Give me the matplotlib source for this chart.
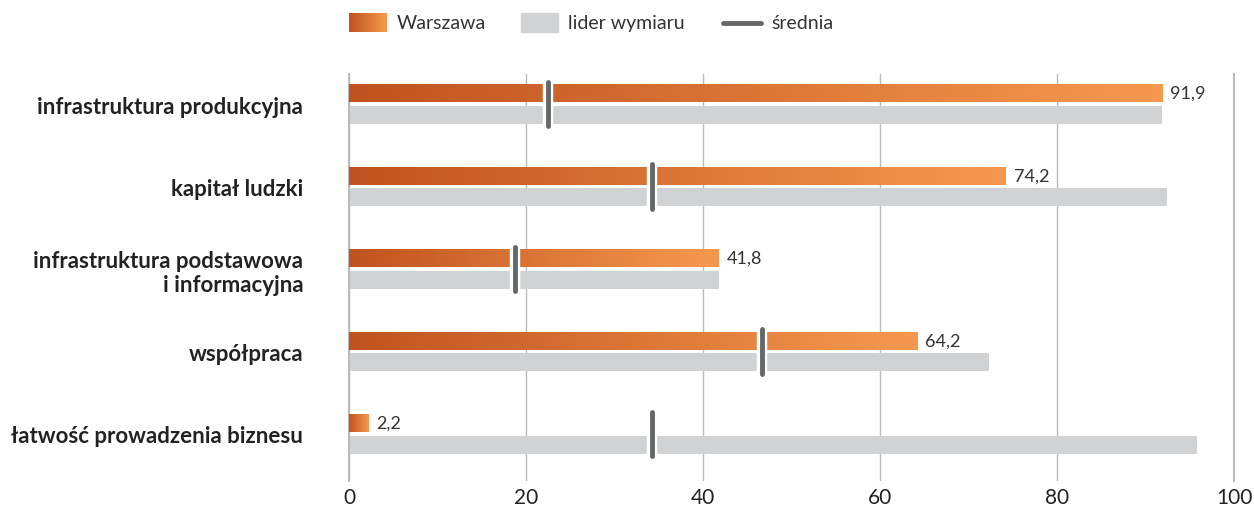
import numpy as np
import matplotlib
matplotlib.use('Agg')
import matplotlib.pyplot as plt
from matplotlib.colors import LinearSegmentedColormap
from matplotlib.patches import Rectangle
from matplotlib.lines import Line2D
import matplotlib.patheffects as pe

plt.rcParams['font.family'] = ['Lato', 'DejaVu Sans']

categories = ['infrastruktura produkcyjna', 'kapitał ludzki',
              'infrastruktura podstawowa\ni informacyjna', 'współpraca',
              'łatwość prowadzenia biznesu']
warszawa = [91.9, 74.2, 41.8, 64.2, 2.2]
lider = [91.9, 92.4, 41.8, 72.3, 95.8]
srednia = [22.5, 34.2, 18.8, 46.7, 34.2]
labels = ['91,9', '74,2', '41,8', '64,2', '2,2']
xticks = [0, 20, 40, 60, 80, 100]

W, H = 1254, 506
fig = plt.figure(figsize=(W / 100, H / 100), dpi=100)
ax = fig.add_axes([349 / W, 1 - 482 / H, (1234 - 349) / W, (482 - 75) / H])

cmap = LinearSegmentedColormap.from_list('war', ['#C0531F', '#F6994F'])
grad = np.linspace(0, 1, 256).reshape(1, -1)

off = 0.133
bh = 0.218
for i in range(len(categories)):
    # gray leader bar
    ax.barh(i + off, lider[i], height=bh, color='#D1D2D4', zorder=2)
    # gradient Warsaw bar
    y0 = i - off - bh / 2
    ax.imshow(grad, cmap=cmap, aspect='auto', extent=[0, warszawa[i], y0 + bh, y0],
              zorder=3, interpolation='bicubic')
    ax.text(warszawa[i] + 0.9, i - off, labels[i], va='center', ha='left',
            fontsize=13, color='#333333')
    # average marker
    ax.plot([srednia[i], srednia[i]], [i - 0.27, i + 0.27], color='#666769', lw=3.5,
            solid_capstyle='round', zorder=5,
            path_effects=[pe.Stroke(linewidth=7.5, foreground='white'), pe.Normal()])

ax.set_xlim(0, 100)
ax.set_ylim(4.57, -0.364)
ax.set_xticks(xticks)
ax.set_xticklabels([str(t) for t in xticks], fontsize=15, color='#222222')
ax.set_yticks(range(len(categories)))
ax.set_yticklabels(categories, fontsize=16, fontweight='bold', color='#222222')
ax.tick_params(axis='x', length=0, pad=4)
ax.tick_params(axis='y', length=0, pad=33)
for t in ax.get_yticklabels():
    t.set_multialignment('right')
ax.grid(axis='x', color='#BBBBBB', lw=1, zorder=1)
ax.set_axisbelow(True)
for s in ['top', 'bottom']:
    ax.spines[s].set_visible(False)
for s in ['left', 'right']:
    ax.spines[s].set_color('#BBBBBB')
    ax.spines[s].set_linewidth(1.5)

# legend
lax = fig.add_axes([349 / W, 1 - 33 / H, 38 / W, 19 / H])
lax.imshow(grad, cmap=cmap, aspect='auto', interpolation='bicubic')
lax.axis('off')
fig.text(397 / W, 1 - 24 / H, 'Warszawa', fontsize=14, va='center', color='#333333')
fig.patches.append(Rectangle((521 / W, 1 - 33 / H), 37 / W, 19 / H,
                             transform=fig.transFigure, color='#D1D2D4'))
fig.text(568 / W, 1 - 24 / H, 'lider wymiaru', fontsize=14, va='center', color='#333333')
fig.lines.append(Line2D([723 / W, 761 / W], [1 - 24 / H, 1 - 24 / H], transform=fig.transFigure,
                        color='#666769', lw=3.5, solid_capstyle='round'))
fig.text(771 / W, 1 - 24 / H, 'średnia', fontsize=14, va='center', color='#333333')

plt.savefig('out.png', dpi=100)
plt.close()
